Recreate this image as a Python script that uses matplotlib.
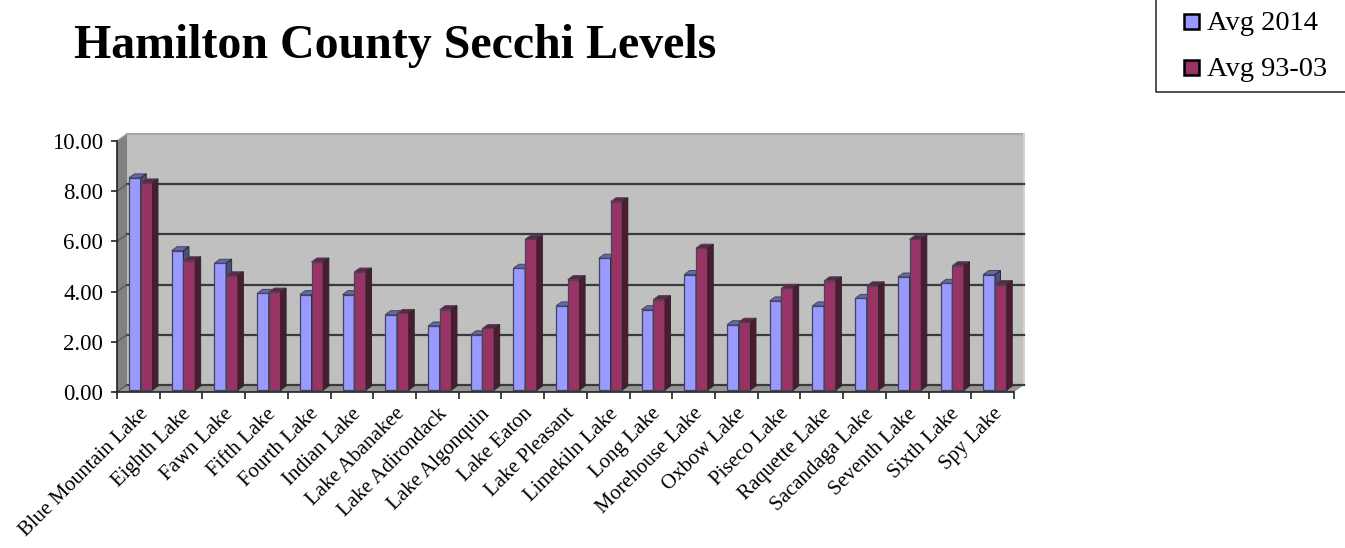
import numpy as np
import matplotlib
matplotlib.use('Agg')
import matplotlib.pyplot as plt
from matplotlib.patches import Rectangle

plt.rcParams['font.family'] = ['Liberation Serif', 'DejaVu Serif']

lakes = ['Blue Mountain Lake', 'Eighth Lake', 'Fawn Lake', 'Fifth Lake', 'Fourth Lake',
         'Indian Lake', 'Lake Abanakee', 'Lake Adirondack', 'Lake Algonquin', 'Lake Eaton',
         'Lake Pleasant', 'Limekiln Lake', 'Long Lake', 'Morehouse Lake', 'Oxbow Lake',
         'Piseco Lake', 'Raquette Lake', 'Sacandaga Lake', 'Seventh Lake', 'Sixth Lake', 'Spy Lake']
avg_2014 = [8.45, 5.55, 5.05, 3.85, 3.80, 3.80, 3.00, 2.55, 2.20, 4.85, 3.35,
            5.25, 3.20, 4.60, 2.60, 3.55, 3.35, 3.65, 4.50, 4.25, 4.60]
avg_9303 = [8.25, 5.15, 4.55, 3.90, 5.10, 4.70, 3.05, 3.20, 2.45, 6.00, 4.40,
            7.50, 3.60, 5.65, 2.70, 4.05, 4.35, 4.15, 6.00, 4.95, 4.20]
yticks = [0, 2, 4, 6, 8, 10]

W, H = 1345, 548
fig = plt.figure(figsize=(W / 100, H / 100), dpi=100)
ax = fig.add_axes([117 / W, (H - 392) / H, 897 / W, 251 / H])
ax.set_xlim(0, len(lakes))
ax.set_ylim(0, 10)

# depth of the back wall and of the bars, in data units
wall_dx, wall_dy = 10 / 42.7, 7 / 25.1
bar_dx, bar_dy = 5.5 / 42.7, 4 / 25.1
base = 0.08
n = len(lakes)

# walls and floor
ax.fill([wall_dx, n + wall_dx, n + wall_dx, wall_dx], [wall_dy, wall_dy, 10 + wall_dy, 10 + wall_dy],
        color='#c0c0c0', clip_on=False, zorder=1, lw=0)
ax.fill([0, wall_dx, wall_dx, 0], [0, wall_dy, 10 + wall_dy, 10], color='#808080', clip_on=False, zorder=1, lw=0)
ax.fill([0, n, n + wall_dx, wall_dx], [0, 0, wall_dy, wall_dy], color='#969696', clip_on=False, zorder=1, lw=0)
ax.plot([wall_dx, n + wall_dx], [10 + wall_dy] * 2, color='#a8a8a8', lw=1.5, clip_on=False, zorder=1)
ax.plot([n + wall_dx] * 2, [wall_dy, 10 + wall_dy], color='#d4d4d4', lw=1.5, clip_on=False, zorder=1)
ax.plot([0, wall_dx], [10, 10 + wall_dy], color='#999999', lw=1, clip_on=False, zorder=1)
for v in yticks[:-1]:
    ax.plot([wall_dx, n + wall_dx], [v + wall_dy] * 2, color='#3a3a3a', lw=1.6, clip_on=False, zorder=2)
    ax.plot([0, wall_dx], [v, v + wall_dy], color='#5a5a5a', lw=1, clip_on=False, zorder=2)


def bar3d(x, w, v, front, top, side):
    t = v + base
    ax.fill([x, x + w, x + w, x], [base, base, t, t], facecolor=front, edgecolor='#45455a', lw=0.9, clip_on=False, zorder=4)
    ax.fill([x, x + w, x + w + bar_dx, x + bar_dx], [t, t, t + bar_dy, t + bar_dy],
            facecolor=top, edgecolor='#45455a', lw=0.7, clip_on=False, zorder=4)
    ax.fill([x + w, x + w + bar_dx, x + w + bar_dx, x + w], [base, base + bar_dy, t + bar_dy, t],
            facecolor=side, edgecolor='#2a2a2a', lw=0.7, clip_on=False, zorder=4)


bw = 0.275
for i in range(n):
    bar3d(i + 0.28, bw, avg_2014[i], '#9999ff', '#6666aa', '#4d4d80')
    bar3d(i + 0.28 + bw, bw, avg_9303[i], '#993366', '#66223f', '#4d1a33')

for s in ['top', 'right']:
    ax.spines[s].set_visible(False)
for s in ['left', 'bottom']:
    ax.spines[s].set_color('#222222')
    ax.spines[s].set_linewidth(1.2)
    ax.spines[s].set_zorder(5)

ax.set_yticks(yticks)
ax.set_yticklabels(['%.2f' % v for v in yticks], fontsize=16.5)
ax.tick_params(axis='y', length=4, width=1.2, pad=6, color='#222222')
ax.set_xticks(range(n + 1))
ax.set_xticklabels([])
ax.tick_params(axis='x', which='major', length=5, width=1.2, color='#222222')
ax.set_xticks(np.arange(n) + 0.5, minor=True)
ax.set_xticklabels(lakes, minor=True, rotation=45, ha='right', va='top',
                   rotation_mode='anchor', fontsize=15)
ax.tick_params(axis='x', which='minor', length=0, pad=9)

fig.text(74 / W, 1 - 46 / H, 'Hamilton County Secchi Levels', fontsize=34.5, fontweight='bold',
         va='center', ha='left')

# legend box, open to the top and right edges
fig.add_artist(plt.Line2D([1156 / W, 1156 / W, 1], [1, 1 - 92 / H, 1 - 92 / H], color='#333333', lw=1.2))
for yc, c, label in [(21, '#9999ff', 'Avg 2014'), (67, '#993366', 'Avg 93-03')]:
    fig.add_artist(Rectangle((1184 / W, 1 - (yc + 7.5) / H), 15 / W, 15 / H, facecolor=c,
                             edgecolor='black', lw=1.8, transform=fig.transFigure))
    fig.text(1207 / W, 1 - (yc + 2) / H, label, fontsize=20.5, va='center', ha='left')

plt.savefig('out.png', dpi=100)
